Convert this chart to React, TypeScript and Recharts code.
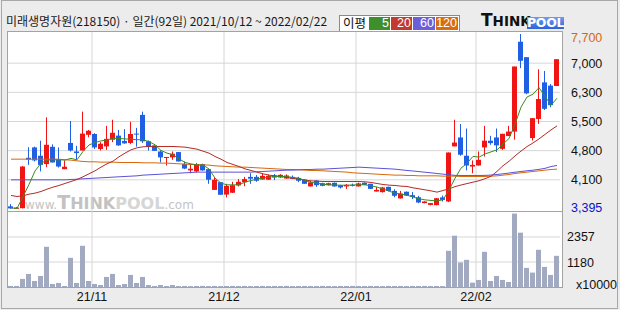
import React from 'react';
import { ComposedChart, Bar, Line, XAxis, YAxis, CartesianGrid } from 'recharts';

const dates = [
  '21/10/12','21/10/13','21/10/14','21/10/15','21/10/18','21/10/19','21/10/20','21/10/21','21/10/22','21/10/25','21/10/26','21/10/27','21/10/28','21/10/29',
  '21/11/01','21/11/02','21/11/03','21/11/04','21/11/05','21/11/08','21/11/09','21/11/10','21/11/11','21/11/12','21/11/15','21/11/16','21/11/17','21/11/18','21/11/19','21/11/22','21/11/23','21/11/24','21/11/25','21/11/26','21/11/29','21/11/30',
  '21/12/01','21/12/02','21/12/03','21/12/06','21/12/07','21/12/08','21/12/09','21/12/10','21/12/13','21/12/14','21/12/15','21/12/16','21/12/17','21/12/20','21/12/21','21/12/22','21/12/23','21/12/24','21/12/27','21/12/28','21/12/29','21/12/30',
  '22/01/03','22/01/04','22/01/05','22/01/06','22/01/07','22/01/10','22/01/11','22/01/12','22/01/13','22/01/14','22/01/17','22/01/18','22/01/19','22/01/20','22/01/21','22/01/24','22/01/25','22/01/26','22/01/27','22/01/28',
  '22/02/03','22/02/04','22/02/07','22/02/08','22/02/09','22/02/10','22/02/11','22/02/14','22/02/15','22/02/16','22/02/17','22/02/18','22/02/21','22/02/22'
];

const opens = [
  3460,3400,3415,4655,4910,4705,4500,4925,4605,4375,5020,4810,4835,5220,5240,4870,4935,5100,5200,5070,
  5020,5250,5710,5060,4960,4810,4665,4665,4795,4505,4345,4320,4500,4375,3865,4055,3750,3795,3975,4055,
  4185,4185,4120,4115,4220,4170,4145,4185,4155,4120,3950,4095,4030,3980,4040,3980,3950,3990,3950,4040,
  4015,3825,3810,3940,3840,3655,3820,3735,3685,3540,3495,3490,3680,3580,4935,5155,4705,4440,4465,4910,
  5075,5155,4875,5190,5300,7510,7130,5140,5610,6510,6430,6420
];
const highs = [
  3515,3440,4450,4915,4930,5075,5650,4985,4910,4590,5560,4950,5790,5340,5260,5040,5440,5590,5340,5360,
  5540,5390,5790,5080,4960,4835,4675,4810,4795,4565,4480,4525,4510,4375,4180,4060,4015,4065,4130,4185,
  4275,4230,4270,4245,4255,4250,4245,4220,4185,4120,4095,4100,4040,4040,4045,3990,4010,4020,4045,4050,
  4015,3935,3940,3945,3880,3840,3825,3810,3720,3585,3545,3665,3725,4785,5590,5485,5375,4590,4810,5440,
  5195,5375,5245,5440,6900,7700,7130,5630,6830,6790,6470,7080
];
const lows = [
  3400,3395,3410,4480,4565,4320,4425,4540,4415,4375,4810,4620,4835,5160,4870,4835,4850,5040,4950,5000,
  4990,4930,5020,4835,4825,4540,4465,4605,4565,4375,4275,4295,4335,4015,3865,3745,3680,3790,3950,3955,
  4015,4065,4120,4110,4105,4160,4140,4130,4055,4015,3950,3940,3955,3975,3945,3900,3890,3950,3950,3985,
  3890,3825,3800,3830,3685,3655,3720,3640,3540,3535,3485,3485,3580,3565,4935,4705,4345,4275,4465,4685,
  4975,4795,4850,5190,5100,6860,6220,5080,5490,5830,5900,6420
];
const closes = [
  3410,3430,4440,4610,4590,4480,4975,4540,4440,4435,4835,4770,5250,5320,4910,5000,5120,5270,4960,5010,
  5240,5230,5060,4920,4825,4665,4675,4755,4565,4390,4385,4500,4345,4115,4115,3745,3965,3980,4065,4130,
  4140,4090,4210,4210,4170,4235,4220,4140,4090,4015,4050,3980,3965,4030,3950,3925,3990,3965,4025,3990,
  3890,3865,3925,3840,3720,3775,3725,3690,3555,3580,3540,3660,3620,4785,5030,4730,4465,4480,4605,5075,
  5015,4960,5245,5300,6900,7040,6240,5630,6100,5860,5950,7080
];
const volumes = [
  50,50,380,616,284,521,1896,142,190,47,1375,190,1943,284,142,95,474,616,95,142,
  569,190,474,95,47,95,47,95,45,50,42,48,52,45,50,44,47,52,46,50,
  43,48,51,45,49,47,52,44,46,50,48,45,51,47,43,49,46,52,47,45,
  50,48,44,51,47,49,45,50,46,52,48,47,44,1706,2417,1153,1280,205,332,1659,
  284,521,332,237,3460,2560,901,679,1754,948,569,1469
];
const ma5 = [
  3420,3410,3700,4000,4330,4520,4600,4605,4605,4600,4640,4605,4810,4970,5030,5070,5095,5135,5130,5120,
  5110,5100,5095,5055,4975,4835,4770,4730,4630,4540,4505,4480,4475,4380,4155,4030,3990,3990,3990,4055,
  4095,4130,4155,4180,4195,4195,4190,4170,4155,4095,4050,4030,4005,3990,3985,3980,3980,3985,3990,3990,
  3965,3935,3885,3835,3785,3760,3735,3690,3645,3620,3605,3595,3620,3860,4150,4400,4520,4690,4670,4750,
  4800,4850,4990,5130,5480,5900,6150,6220,6380,6170,5950,6120
];
const ma20 = [
  3728,3703,3720,3760,3785,3826,3883,3933,3974,4023,4072,4121,4187,4261,4334,4425,4507,4572,4679,4769,
  4851,4900,4925,4933,4933,4933,4933,4933,4925,4917,4892,4867,4818,4769,4687,4621,4540,4490,4441,4383,
  4343,4302,4261,4228,4211,4195,4170,4146,4129,4105,4088,4080,4072,4072,4072,4072,4072,4072,4072,4064,
  4048,4023,3998,3982,3974,3957,3949,3916,3892,3867,3842,3810,3850,3890,3945,3985,4020,4055,4090,4140,
  4200,4320,4460,4570,4700,4820,4930,5020,5120,5230,5340,5440
];
const ma60 = [
  4113,4113,4113,4113,4113,4113,4113,4113,4113,4113,4121,4129,4138,4146,4154,4162,4170,4179,4187,4195,
  4203,4211,4228,4236,4244,4252,4261,4269,4277,4285,4293,4302,4302,4302,4302,4302,4302,4302,4302,4302,
  4302,4310,4318,4326,4334,4343,4351,4351,4359,4367,4367,4375,4375,4384,4392,4400,4408,4416,4425,4416,
  4408,4400,4392,4384,4375,4359,4343,4330,4315,4300,4285,4268,4252,4238,4222,4220,4220,4220,4220,4222,
  4230,4245,4260,4280,4300,4318,4335,4350,4370,4395,4440,4465
];
const ma120 = [
  4621,4621,4621,4621,4621,4621,4621,4621,4621,4605,4597,4580,4564,4556,4556,4548,4548,4548,4539,4539,
  4539,4539,4531,4531,4531,4523,4523,4515,4507,4498,4490,4482,4482,4474,4457,4449,4441,4433,4425,4425,
  4416,4408,4400,4392,4384,4375,4367,4367,4359,4351,4343,4343,4334,4326,4318,4310,4302,4285,4277,4269,
  4261,4252,4244,4236,4228,4228,4220,4220,4211,4211,4211,4211,4203,4203,4203,4195,4195,4195,4195,4195,
  4203,4211,4228,4244,4269,4285,4302,4318,4334,4351,4367,4375
];

const priceMin = 3395;
const priceMax = 7700;
const priceTicks = [3395, 4112.5, 4830, 5547.5, 6265, 6982.5, 7700];
const priceTickLabels = ['3,395', '4,100', '4,800', '5,500', '6,300', '7,000', '7,700'];
const priceGrid = [4112.5, 4830, 5547.5, 6265, 6982.5];
const volMax = 3535;
const volTicks = [1178.3, 2356.7];
const volTickLabels = ['1180', '2357'];
const monthStarts = ['21/11/01', '21/12/01', '22/01/03', '22/02/03'];
const monthLabels = ['21/11', '21/12', '22/01', '22/02'];
const maNames = ['5', '20', '60', '120'];

const UP = '#f01414';
const DOWN = '#1f5fe3';
const MA_COLORS = ['#3a8c22', '#b52a22', '#5b52d6', '#d8680c'];
const LEGEND_COLORS = ['#3f8f2c', '#c23a2e', '#6a5fd9', '#d86c0e'];
const GRID = '#d6d6d6';
const FRAME = '#a3a3a3';
const NUM_FONT = '"Liberation Sans", Arial, sans-serif';
const KR_FONT = '"Noto Sans CJK KR", "Noto Sans", sans-serif';

const data = dates.map((d, i) => ({
  date: d,
  pos: i + 0.5,
  range: [lows[i], highs[i]],
  open: opens[i],
  high: highs[i],
  low: lows[i],
  close: closes[i],
  vol: volumes[i],
  ma5: ma5[i],
  ma20: ma20[i],
  ma60: ma60[i],
  ma120: ma120[i],
}));
const monthPos = monthStarts.map((d) => dates.indexOf(d));

const Candle = (props: any) => {
  const { x, y, width, height, payload } = props;
  if (x == null || y == null || !payload) return null;
  const { open, close, high, low } = payload;
  const top = Math.min(y, y + height);
  const h = Math.abs(height);
  const span = high - low;
  const py = (v: number) => (span > 0 ? top + ((high - v) / span) * h : top);
  const up = close >= open;
  const color = up ? UP : DOWN;
  const cx = Math.round(x + width / 2 - 0.5);
  const b1 = py(Math.max(open, close));
  const b2 = py(Math.min(open, close));
  const bh = Math.max(1, b2 - b1);
  return (
    <g>
      <rect x={cx} y={top} width={1} height={Math.max(1, h)} fill={color} />
      <rect x={cx - 2} y={b1} width={5} height={bh} fill={color} />
    </g>
  );
};

const PriceTick = (props: any) => {
  const { x, y, payload } = props;
  const idx = priceTicks.indexOf(payload.value);
  const last = priceTicks.length - 1;
  const color = idx === 0 ? '#0a14c8' : idx === last ? '#d2690f' : '#111';
  const dy = idx === 0 ? -2 : idx === last ? 3 : 0;
  return (
    <text x={x} y={y + dy} dy={4.5} textAnchor="start" fill={color}
      style={{ fontFamily: NUM_FONT, fontSize: 12.5 }}>
      {priceTickLabels[idx]}
    </text>
  );
};

const VolTick = (props: any) => {
  const { x, y, payload } = props;
  const idx = volTicks.indexOf(payload.value);
  return (
    <text x={x} y={y} dy={4.5} textAnchor="start" fill="#111"
      style={{ fontFamily: NUM_FONT, fontSize: 12.5 }}>
      {volTickLabels[idx]}
    </text>
  );
};

const MonthTick = (props: any) => {
  const { x, y, payload } = props;
  const idx = monthPos.indexOf(payload.value);
  return (
    <text x={x} y={y} dy={13.5} textAnchor="middle" fill="#111"
      style={{ fontFamily: NUM_FONT, fontSize: 12.5 }}>
      {monthLabels[idx]}
    </text>
  );
};

const abs = (left: number, top: number, extra: any = {}) => ({
  position: 'absolute' as const, left, top, ...extra,
});

export default function App() {
  return (
    <div style={{ position: 'absolute', left: 0, top: 0, width: 620, height: 310, background: '#ececec', overflow: 'hidden' }}>
      {/* outer border */}
      <div style={abs(1, 0, { width: 617, height: 309, border: '1px solid #a8a8a8', boxSizing: 'border-box' })} />

      {/* title */}
      <div style={abs(6, 13, { fontFamily: KR_FONT, fontSize: 12, color: '#1a1a1a', whiteSpace: 'nowrap', lineHeight: '16px' })}>
        미래생명자원(218150) · 일간(92일) 2021/10/12 ~ 2022/02/22
      </div>

      {/* legend */}
      <div style={abs(339, 15, { width: 121, height: 17, background: '#fff', border: '1px solid #8a8a8a', boxSizing: 'border-box' })} />
      <div style={abs(343, 15, { fontFamily: KR_FONT, fontSize: 12.5, color: '#111', lineHeight: '16px' })}>이평</div>
      {maNames.map((n, i) => (
        <div key={n} style={abs(369 + [0, 22, 44, 67][i], 17, {
          width: [21, 21, 22, 22][i], height: 13, background: LEGEND_COLORS[i], color: '#fff',
          fontFamily: NUM_FONT, fontSize: 12.5, lineHeight: '13px', textAlign: 'right', paddingRight: 1, boxSizing: 'border-box',
        })}>{n}</div>
      ))}

      {/* logo */}
      <div style={abs(481, 11, { fontFamily: '"DejaVu Sans", sans-serif', fontWeight: 'bold', color: '#111', whiteSpace: 'nowrap', lineHeight: '18px' })}>
        <span style={{ fontSize: 17 }}>T</span><span style={{ fontSize: 13.5 }}>HINK</span>
      </div>
      <div style={abs(527, 17, { width: 37, height: 12, background: 'linear-gradient(#6f9bf0, #2f62d6)', color: '#fff',
        fontFamily: '"DejaVu Sans", sans-serif', fontWeight: 'bold', fontSize: 12.5, lineHeight: '12px', textAlign: 'center', letterSpacing: -0.3 })}>
        POOL
      </div>

      {/* plot frames */}
      <div style={abs(7, 31, { width: 556, height: 257, background: '#fff', border: `1px solid ${FRAME}`, boxSizing: 'border-box' })} />
      <div style={abs(7, 211, { width: 556, height: 1, background: FRAME })} />

      {/* watermark */}
      <div style={abs(25, 193, { whiteSpace: 'nowrap', fontFamily: '"DejaVu Sans", sans-serif', fontWeight: 'bold', lineHeight: '18px' })}>
        <span style={{ fontSize: 12, color: '#c4c4c4', fontWeight: 'normal' }}>www.</span>
        <span style={{ fontSize: 19, color: '#c2c2c2' }}>T</span>
        <span style={{ fontSize: 16, color: '#c2c2c2' }}>HINK</span>
        <span style={{ fontSize: 16, color: '#d6d6d6' }}>POOL</span>
        <span style={{ fontSize: 12, color: '#c4c4c4', fontWeight: 'normal' }}>.com</span>
      </div>

      {/* price chart */}
      <div style={abs(0, 0)}>
        <ComposedChart width={620} height={220} data={data} margin={{ top: 32, right: 0, bottom: 8, left: 8 }}>
          <CartesianGrid stroke={GRID} horizontalValues={priceGrid} verticalValues={monthPos} />
          <XAxis xAxisId={0} dataKey="pos" type="number" domain={[0, dates.length]} allowDataOverflow hide />
          <YAxis yAxisId={0} orientation="right" width={60} type="number" domain={[priceMin, priceMax]}
            allowDataOverflow ticks={priceTicks} interval={0} padding={{ top: 2, bottom: 3 }}
            axisLine={false} tickLine={false} tickSize={6} tickMargin={5} tick={<PriceTick />} />
          <Line dataKey="ma120" stroke={MA_COLORS[3]} strokeWidth={1} dot={false} isAnimationActive={false} />
          <Line dataKey="ma60" stroke={MA_COLORS[2]} strokeWidth={1} dot={false} isAnimationActive={false} />
          <Line dataKey="ma20" stroke={MA_COLORS[1]} strokeWidth={1} dot={false} isAnimationActive={false} />
          <Bar dataKey="range" barSize={5} shape={<Candle />} isAnimationActive={false} />
          <Line dataKey="ma5" stroke={MA_COLORS[0]} strokeWidth={1} dot={false} isAnimationActive={false} />
        </ComposedChart>
      </div>

      {/* volume chart */}
      <div style={abs(0, 0)}>
        <ComposedChart width={620} height={310} data={data} margin={{ top: 212, right: 0, bottom: 0, left: 8 }}>
          <CartesianGrid stroke={GRID} horizontalValues={volTicks} verticalValues={monthPos} />
          <XAxis dataKey="pos" type="number" domain={[0, dates.length]} allowDataOverflow ticks={monthPos} interval={0}
            height={23} axisLine={false} tickLine={false} tickSize={0} tickMargin={0} tick={<MonthTick />} />
          <YAxis orientation="right" width={60} type="number" domain={[0, volMax]} allowDataOverflow ticks={volTicks}
            interval={0} axisLine={false} tickLine={false} tickSize={6} tickMargin={1} tick={<VolTick />} />
          <Bar dataKey="vol" barSize={5} fill="#a2aac2" isAnimationActive={false} />
        </ComposedChart>
      </div>

      <div style={abs(576, 278, { fontFamily: NUM_FONT, fontSize: 12.5, color: '#111', lineHeight: '14px' })}>x10000</div>
    </div>
  );
}
